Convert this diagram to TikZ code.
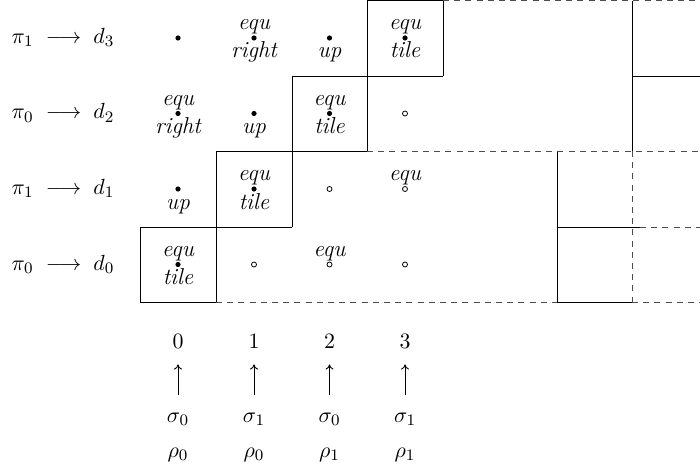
\documentclass[tikz,border=0pt]{standalone}
\usetikzlibrary{arrows.meta}
\begin{document}
\begin{tikzpicture}[x=0.5pt,y=-0.5pt,
  fdot/.style={circle,fill=black,inner sep=0pt,minimum size=2.6pt},
  odot/.style={circle,draw=black,line width=0.4pt,fill=white,inner sep=0pt,minimum size=2.5pt},
  lab/.style={font=\fontsize{11.5}{13}\selectfont\itshape,inner sep=0pt,anchor=base},
  mlab/.style={font=\fontsize{11}{13}\selectfont,inner sep=0pt,anchor=base},
  solidline/.style={line width=0.45pt,black},
  dashline/.style={line width=0.45pt,black!70,dash pattern=on 3pt off 2.6pt},
  uparr/.style={line width=0.45pt,-{To[length=2.6pt,width=4pt]},shorten >=8pt,shorten <=8.5pt}]
\useasboundingbox (0,0) rectangle (700,470);
% ---------- grid lines ----------
% staircase (solid)
\draw[solidline] (140,227) -- (140,302) -- (216,302);
\draw[solidline] (140,227) -- (292,227);
\draw[solidline] (216,151) -- (216,302);
\draw[solidline] (216,151) -- (367,151);
\draw[solidline] (292,76) -- (292,227);
\draw[solidline] (292,76) -- (443,76);
\draw[solidline] (367,0.6) -- (367,151);
\draw[solidline] (367,0.6) -- (443,0.6) -- (443,76);
% right part
\draw[solidline] (557,151) -- (557,302) -- (632,302);
\draw[solidline] (557,227) -- (640,227);
\draw[solidline] (632,0.6) -- (632,151);
\draw[solidline] (632,76) -- (700,76);
% dashed
\draw[dashline] (443,0.6) -- (700,0.6);
\draw[dashline] (367,151) -- (700,151);
\draw[dashline] (216,302) -- (557,302);
\draw[dashline] (632,302) -- (700,302);
\draw[dashline] (640,227) -- (700,227);
\draw[dashline] (632,151) -- (632,302);
% ---------- row labels ----------
\node[mlab] (L3) at (63,43.5) {$\pi_1 \;\longrightarrow\; d_3$};
\node[mlab] (L2) at (63,119)  {$\pi_0 \;\longrightarrow\; d_2$};
\node[mlab] (L1) at (63,194.5) {$\pi_1 \;\longrightarrow\; d_1$};
\node[mlab] (L0) at (63,270)  {$\pi_0 \;\longrightarrow\; d_0$};
% ---------- cells ----------
% row d3 (y=38)
\node[fdot] (c03) at (178,38) {};
\node[fdot] (c13) at (254,38) {};
\node[fdot] (c23) at (329.5,38) {};
\node[fdot] (c33) at (405,38) {};
% row d2 (y=113.5)
\node[fdot] (c02) at (178,113.5) {};
\node[fdot] (c12) at (254,113.5) {};
\node[fdot] (c22) at (329.5,113.5) {};
\node[odot] (c32) at (405,113.5) {};
% row d1 (y=189)
\node[fdot] (c01) at (178,189) {};
\node[fdot] (c11) at (254,189) {};
\node[odot] (c21) at (329.5,189) {};
\node[odot] (c31) at (405,189) {};
% row d0 (y=264.5)
\node[fdot] (c00) at (178,264.5) {};
\node[odot] (c10) at (254,264.5) {};
\node[odot] (c20) at (329.5,264.5) {};
\node[odot] (c30) at (405,264.5) {};
% labels above (equ)
\foreach \c in {c13,c33,c02,c22,c11,c31,c00,c20}{
  \node[lab] (e-\c) at ([yshift=4pt]\c.center) {equ};
}
% labels below
\node[lab] (b-c13) at ([yshift=-10pt]c13.center) {right};
\node[lab] (b-c02) at ([yshift=-10pt]c02.center) {right};
\node[lab] (b-c23) at ([yshift=-10pt]c23.center) {up};
\node[lab] (b-c12) at ([yshift=-10pt]c12.center) {up};
\node[lab] (b-c01) at ([yshift=-10pt]c01.center) {up};
\node[lab] (b-c33) at ([yshift=-10pt]c33.center) {tile};
\node[lab] (b-c22) at ([yshift=-10pt]c22.center) {tile};
\node[lab] (b-c11) at ([yshift=-10pt]c11.center) {tile};
\node[lab] (b-c00) at ([yshift=-10pt]c00.center) {tile};
% ---------- bottom ----------
\foreach \i/\x/\s/\r in {0/178/0/0,1/254/1/0,2/329.5/0/1,3/405/1/1}{
  \node[mlab] (n\i) at (\x,348) {$\i$};
  \node[mlab] (s\i) at (\x,422) {$\sigma_{\s}$};
  \node[mlab] (r\i) at (\x,457) {$\rho_{\r}$};
  \draw[uparr] (s\i.north) -- (n\i.south);
}
\end{tikzpicture}
\end{document}
